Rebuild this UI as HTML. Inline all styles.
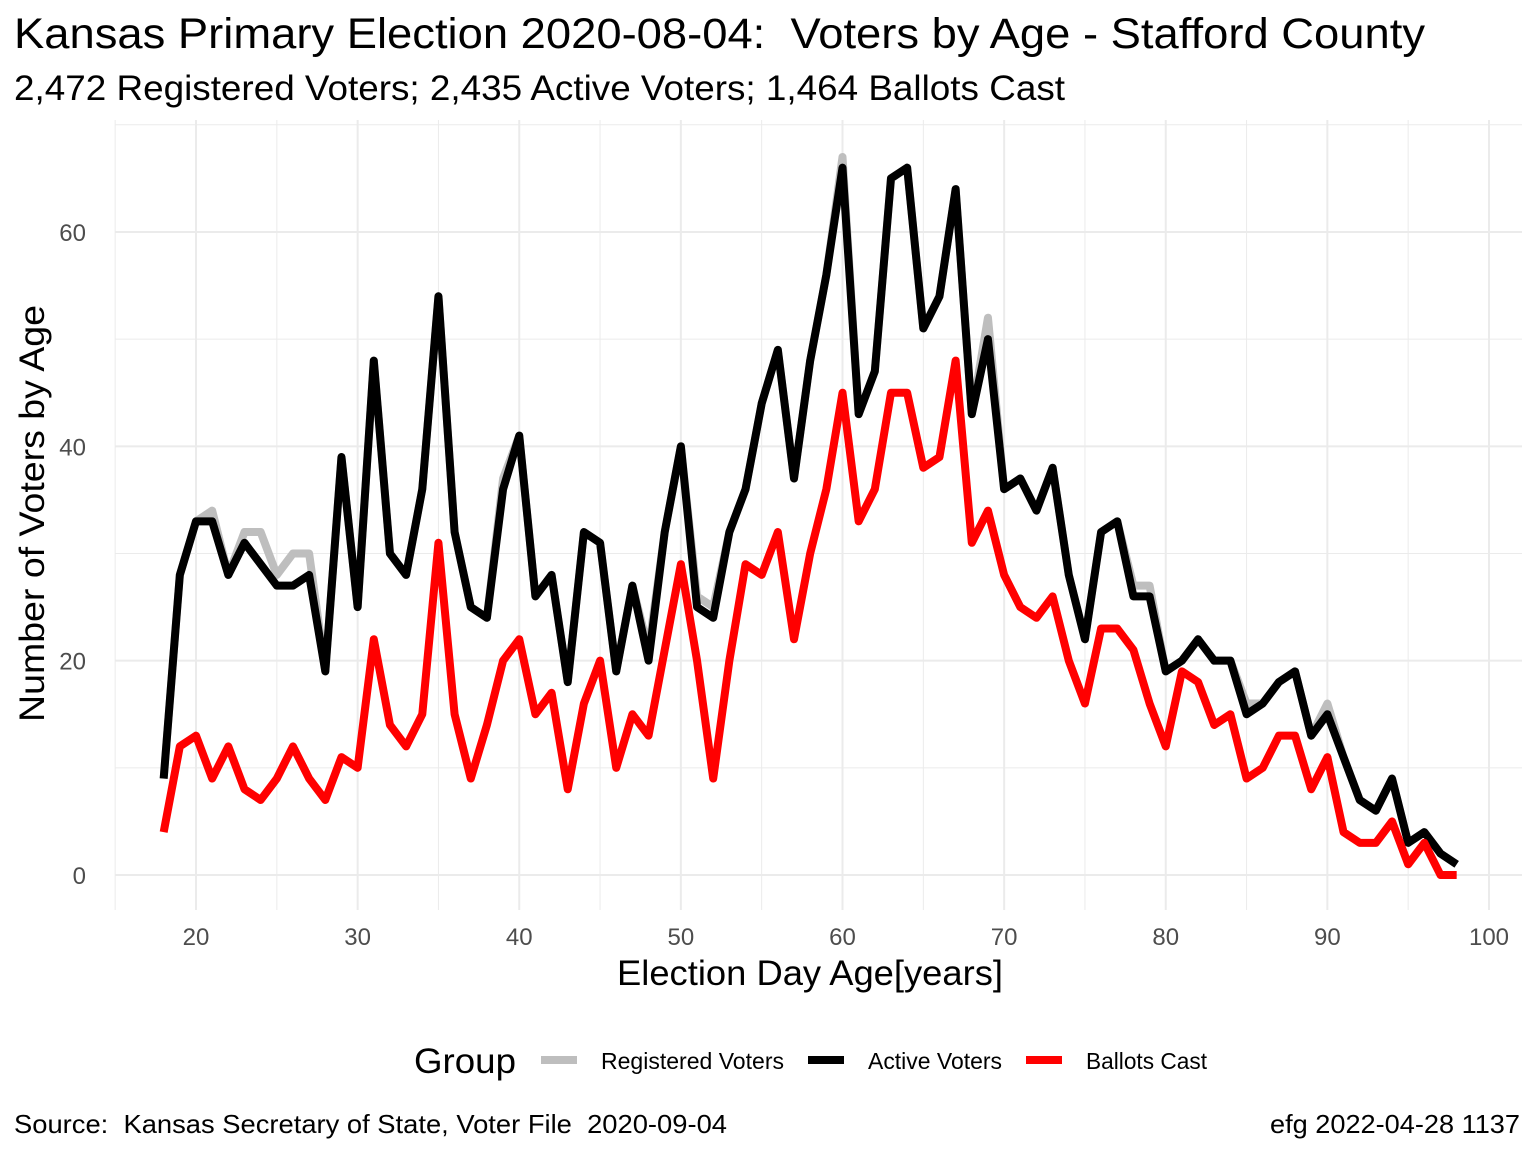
<!DOCTYPE html>
<html><head><meta charset="utf-8"><style>
body{margin:0;background:#fff;font-family:"Liberation Sans",sans-serif}
text{white-space:pre}
</style></head><body>
<svg id="chart" width="1536" height="1152" xmlns="http://www.w3.org/2000/svg" font-family="Liberation Sans, sans-serif">
<rect width="1536" height="1152" fill="#fff"/>
<text x="14" y="48" font-size="43" textLength="1411" lengthAdjust="spacingAndGlyphs">Kansas Primary Election 2020-08-04:&#160; Voters by Age - Stafford County</text>
<text x="14" y="100" font-size="35" textLength="1051" lengthAdjust="spacingAndGlyphs">2,472 Registered Voters; 2,435 Active Voters; 1,464 Ballots Cast</text>
<g id="grid"></g>
<g id="series"></g>
<g id="axes"></g>
<text x="617" y="985" font-size="35" textLength="386" lengthAdjust="spacingAndGlyphs">Election Day Age[years]</text>
<text transform="translate(44,722) rotate(-90)" font-size="35" textLength="417" lengthAdjust="spacingAndGlyphs">Number of Voters by Age</text>
<g>
<text x="414" y="1073" font-size="35" textLength="102" lengthAdjust="spacingAndGlyphs">Group</text>
<g><line x1="541" y1="1060" x2="577" y2="1060" stroke="#bebebe" stroke-width="8"/><text x="601" y="1069" font-size="23" textLength="183" lengthAdjust="spacingAndGlyphs">Registered Voters</text></g>
<g><line x1="808" y1="1060" x2="844" y2="1060" stroke="#000" stroke-width="8"/><text x="868" y="1069" font-size="23" textLength="134" lengthAdjust="spacingAndGlyphs">Active Voters</text></g>
<g><line x1="1026" y1="1060" x2="1062" y2="1060" stroke="#ff0000" stroke-width="8"/><text x="1086" y="1069" font-size="23" textLength="121" lengthAdjust="spacingAndGlyphs">Ballots Cast</text></g>
</g>
<text x="14" y="1133" font-size="26" textLength="713" lengthAdjust="spacingAndGlyphs">Source:&#160; Kansas Secretary of State, Voter File&#160; 2020-09-04</text>
<text x="1270" y="1133" font-size="26" textLength="250" lengthAdjust="spacingAndGlyphs">efg 2022-04-28 1137</text>
</svg>
<script>
const ages=[];for(let a=18;a<=98;a++)ages.push(a);
const activeVoters=[9,28,33,33,28,31,29,27,27,28,19,39,25,48,30,28,36,54,32,25,24,36,41,26,28,18,32,31,19,27,20,32,40,25,24,32,36,44,49,37,48,56,66,43,47,65,66,51,54,64,43,50,36,37,34,38,28,22,32,33,26,26,19,20,22,20,20,15,16,18,19,13,15,11,7,6,9,3,4,2,1];
const registeredVoters=[9,28,33,34,28,32,32,28,30,30,19,39,25,48,30,28,36,54,32,25,24,37,41,26,28,18,32,31,19,27,21,32,40,26,25,32,36,44,49,37,48,56,67,43,47,65,66,51,54,64,43,52,36,37,34,38,28,22,32,33,27,27,19,20,22,20,20,16,16,18,19,13,16,11,7,6,9,3,4,2,1];
const ballotsCast=[4,12,13,9,12,8,7,9,12,9,7,11,10,22,14,12,15,31,15,9,14,20,22,15,17,8,16,20,10,15,13,21,29,20,9,20,29,28,32,22,30,36,45,33,36,45,45,38,39,48,31,34,28,25,24,26,20,16,23,23,21,16,12,19,18,14,15,9,10,13,13,8,11,4,3,3,5,1,3,0,0];
const xTicks=[20,30,40,50,60,70,80,90,100];
const yTicks=[0,20,40,60];
const NS="http://www.w3.org/2000/svg";
const X=a=>196+(a-20)*16.1625, Y=v=>875-v*10.717;
const L=115,R=1522,T=120,B=910;
function mk(tag,attrs,parent){const e=document.createElementNS(NS,tag);for(const k in attrs)e.setAttribute(k,attrs[k]);parent.appendChild(e);return e;}
const grid=document.getElementById('grid'),axes=document.getElementById('axes'),series=document.getElementById('series');
for(let a=15;a<=100;a+=5){const ln=mk('line',{x1:X(a),x2:X(a),y1:T,y2:B,stroke:'#ebebeb','stroke-width':a%10?1:2},grid);

}
for(let v=0;v<=70;v+=10){const ln=mk('line',{x1:L,x2:R,y1:Y(v),y2:Y(v),stroke:'#ebebeb','stroke-width':v%20?1:2},grid);

}
xTicks.forEach(t=>{const tx=mk('text',{x:X(t),y:945,'font-size':24,fill:'#4d4d4d','text-anchor':'middle'},axes);tx.textContent=t;

});
yTicks.forEach(t=>{const tx=mk('text',{x:86,y:Y(t)+9,'font-size':24,fill:'#4d4d4d','text-anchor':'end'},axes);tx.textContent=t;

});
function line(vals,color,name){const p=mk('polyline',{points:vals.map((v,i)=>X(ages[i])+','+Y(v)).join(' '),fill:'none',stroke:color,'stroke-width':8,'stroke-linejoin':'round'},series);

}
line(registeredVoters,'#bebebe','registered-voters-line');
line(activeVoters,'#000','active-voters-line');
line(ballotsCast,'#ff0000','ballots-cast-line');
</script>
</body></html>
